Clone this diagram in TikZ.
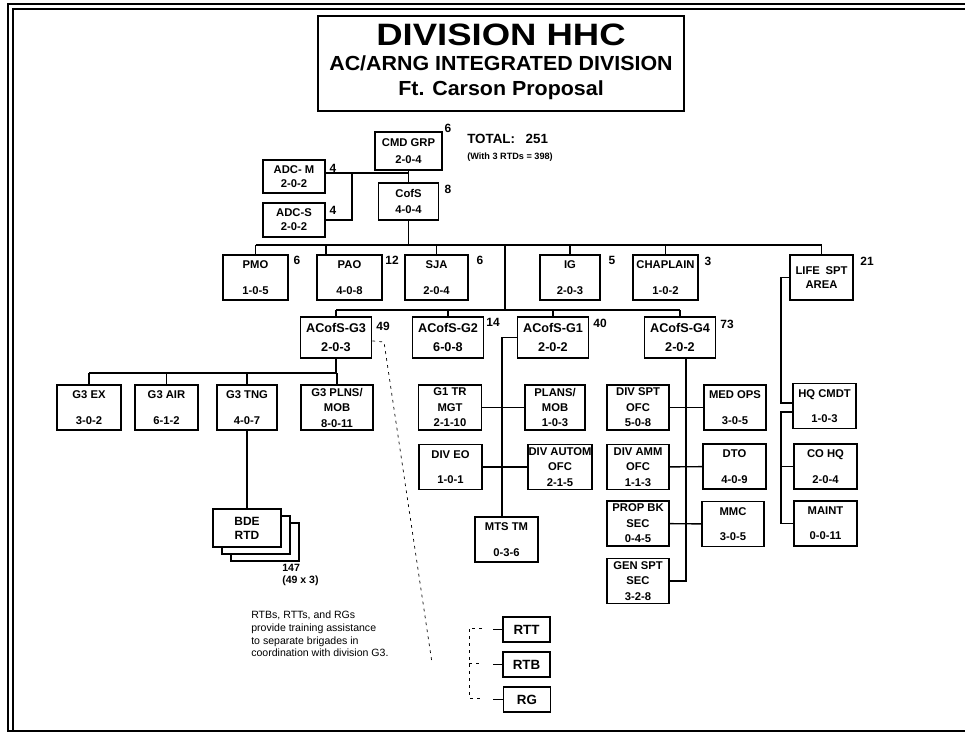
\documentclass[tikz,border=0pt]{standalone}
\usepackage{graphicx}
\usepackage{fontspec}
\setmainfont{Liberation Sans}
\usetikzlibrary{calc}

\begin{document}
\begin{tikzpicture}[
  x=0.025cm,
  y=-0.025cm,
]

  \tikzstyle{orgbox}=[draw,rectangle,line width=1.1pt,minimum width=1.575cm,minimum height=1.125cm,inner sep=0.5pt,align=center,font=\bfseries\fontsize{8}{10}\selectfont]
  \tikzstyle{gbox}=[orgbox,minimum width=1.775cm,minimum height=1.025cm,font=\bfseries\fontsize{9}{11}\selectfont]
  \tikzstyle{topbox}=[orgbox,minimum width=1.55cm,minimum height=0.85cm]
  \tikzstyle{rtdbox}=[orgbox,fill=white,minimum width=1.7cm,minimum height=0.95cm,font=\bfseries\fontsize{8.5}{10}\selectfont]
  \tikzstyle{rtbox}=[orgbox,minimum width=1.175cm,minimum height=0.625cm,font=\bfseries\fontsize{9.5}{11}\selectfont]
  \tikzstyle{tally}=[inner sep=0pt,font=\bfseries\fontsize{8.5}{10}\selectfont]
  \tikzstyle{headline}=[inner sep=0pt,font=\bfseries\fontsize{14.5}{17}\selectfont]
  \tikzstyle{link}=[draw,line width=1pt]
  \tikzstyle{dotlink}=[draw,line width=0.5pt,dash pattern=on 2pt off 3pt]

  % frame
  \useasboundingbox (0,0) rectangle (965,733);
  \draw[line width=1.6pt] (965,4) -- (8,4) -- (8,731) -- (965,731);
  \draw[line width=0.9pt] (965,9) -- (13,9) -- (13,731);

  % title
  \node[draw,line width=0.8pt,minimum width=9.15cm,minimum height=2.375cm] (title) at (501,63.5) {};
  \node[inner sep=0pt,font=\bfseries\fontsize{22}{24}\selectfont] (titlea) at (501,35) {\scalebox{1.18}[1]{DIVISION HHC}};
  \node[headline] (titleb) at (501,63) {\scalebox{1.05}[1]{AC/ARNG INTEGRATED DIVISION}};
  \node[headline] (titlec) at (501,90) {\scalebox{1.05}[1]{Ft. Carson Proposal}};

  % nodes
  \node[topbox,minimum width=1.675cm,minimum height=0.95cm] (cmdgrp) at (408.5,151) {CMD GRP\\[2pt]2-0-4};
  \node[topbox,minimum height=0.825cm] (adcm) at (294,176.5) {ADC- M\\2-0-2};
  \node[topbox] (adcs) at (294,220) {ADC-S\\2-0-2};
  \node[topbox,minimum width=1.5cm,minimum height=0.925cm] (cofs) at (408.5,201.5) {CofS\\[1pt]4-0-4};

  \node[tally] (cmdgrpn) at (448,128) {6};
  \node[tally] (adcmn) at (333,168) {4};
  \node[tally] (adcsn) at (333,210) {4};
  \node[tally] (cofsn) at (448,189) {8};
  \node[anchor=west,inner sep=0pt,font=\bfseries\fontsize{9.5}{11}\selectfont] (total) at (467,139) {TOTAL:\hspace{0.8em}251};
  \node[anchor=west,inner sep=0pt,font=\bfseries\fontsize{6.5}{8}\selectfont] (withrtd) at (467,157) {(With 3 RTDs = 398)};

  \node[orgbox,minimum width=1.625cm] (pmo) at (255.5,277.5) {PMO\\[9pt]1-0-5};
  \node[orgbox,minimum width=1.625cm] (pao) at (349.5,277.5) {PAO\\[9pt]4-0-8};
  \node[orgbox] (sja) at (436.5,277.5) {SJA\\[9pt]2-0-4};
  \node[orgbox,minimum width=1.5cm] (ig) at (570,277.5) {IG\\[9pt]2-0-3};
  \node[orgbox,minimum width=1.625cm] (chaplain) at (665.5,277.5) {CHAPLAIN\\[9pt]1-0-2};
  \node[orgbox] (lifespt) at (821.5,277.5) {LIFE\hspace{0.5em}SPT\\AREA};

  \node[tally] (pmon) at (297,260) {6};
  \node[tally] (paon) at (392,260) {12};
  \node[tally] (sjan) at (480,260) {6};
  \node[tally] (ign) at (612,260) {5};
  \node[tally] (chaplainn) at (708,261) {3};
  \node[tally] (lifesptn) at (867,261) {21};

  \node[gbox] (g3) at (336,337.5) {ACofS-G3\\[3pt]2-0-3};
  \node[gbox] (g2) at (448,337.5) {ACofS-G2\\[3pt]6-0-8};
  \node[gbox] (g1) at (553,337.5) {ACofS-G1\\[3pt]2-0-2};
  \node[gbox] (g4) at (680,337.5) {ACofS-G4\\[3pt]2-0-2};

  \node[tally] (g3n) at (383,326) {49};
  \node[tally] (g2n) at (493,322) {14};
  \node[tally] (g1n) at (600,323) {40};
  \node[tally] (g4n) at (727,324) {73};

  \node[orgbox,minimum width=1.6cm] (g3ex) at (89,407.5) {G3 EX\\[9pt]3-0-2};
  \node[orgbox] (g3air) at (166.5,407.5) {G3 AIR\\[9pt]6-1-2};
  \node[orgbox,minimum width=1.5cm] (g3tng) at (247,407.5) {G3 TNG\\[9pt]4-0-7};
  \node[orgbox,minimum width=1.8cm] (g3plns) at (337,407.5) {G3 PLNS/\\[1pt]MOB\\[1pt]8-0-11};

  \node[rtdbox] (bde3) at (265,542) {};
  \node[rtdbox] (bde2) at (256,535) {};
  \node[rtdbox] (bde1) at (247,528) {BDE\\RTD};
  \node[anchor=west,inner sep=0pt,font=\bfseries\fontsize{7.5}{9}\selectfont] (bden) at (282,568) {147};
  \node[anchor=west,inner sep=0pt,font=\bfseries\fontsize{7.5}{9}\selectfont] (bdex) at (282,581) {(49 x 3)};

  \node[anchor=north west,inner sep=0pt,align=left,font=\fontsize{7.5}{9}\selectfont] (note) at (251,611)
    {RTBs, RTTs, and RGs\\provide training assistance\\to separate brigades in\\coordination with division G3.};

  \node[orgbox] (g1trmgt) at (450,407.5) {G1 TR\\[1pt]MGT\\[1pt]2-1-10};
  \node[orgbox,minimum width=1.5cm] (plansmob) at (555,407.5) {PLANS/\\[1pt]MOB\\[1pt]1-0-3};
  \node[orgbox] (diveo) at (450.5,467) {DIV EO\\[8pt]1-0-1};
  \node[orgbox,minimum width=1.6cm] (divautom) at (560,467) {DIV AUTOM\\[1pt]OFC\\[1pt]2-1-5};
  \node[orgbox] (mtstm) at (506.5,539.5) {MTS TM\\[8pt]0-3-6};

  \node[orgbox,minimum width=1.55cm] (divspt) at (638,407.5) {DIV SPT\\[1pt]OFC\\[1pt]5-0-8};
  \node[orgbox,minimum width=1.55cm] (medops) at (735,407.5) {MED OPS\\[8pt]3-0-5};
  \node[orgbox,minimum width=1.55cm] (divamm) at (638,467) {DIV AMM\\[1pt]OFC\\[1pt]1-1-3};
  \node[orgbox] (dto) at (734.5,466.5) {DTO\\[8pt]4-0-9};
  \node[orgbox,minimum width=1.55cm] (propbk) at (638,523.5) {PROP BK\\[1pt]SEC\\[1pt]0-4-5};
  \node[orgbox,minimum width=1.55cm] (mmc) at (733,524) {MMC\\[8pt]3-0-5};
  \node[orgbox,minimum width=1.55cm] (genspt) at (638,581) {GEN SPT\\[1pt]SEC\\[1pt]3-2-8};

  \node[orgbox] (hqcmdt) at (824.5,406) {HQ CMDT\\[8pt]1-0-3};
  \node[orgbox] (cohq) at (825.5,466.5) {CO HQ\\[8pt]2-0-4};
  \node[orgbox] (maint) at (825.5,523.5) {MAINT\\[8pt]0-0-11};

  \node[rtbox] (rtt) at (526.5,629.5) {RTT};
  \node[rtbox] (rtb) at (526.5,664.5) {RTB};
  \node[rtbox] (rg) at (527,699.5) {RG};

  % junctions
  \coordinate (cj) at (408.5,173);
  \coordinate (adcj) at (352,173);
  \coordinate (bar2) at (505,245);
  \coordinate (paod) at (326,245);
  \coordinate (bar3) at (505,310);
  \coordinate (g3bar) at (336,373);
  \coordinate (g1t) at (502,337.5);
  \coordinate (g4t) at (686,358);
  \coordinate (lsa) at (781,403);
  \coordinate (lsb) at (781,412);
  \coordinate (g3e) at (384,342);
  \coordinate (g3d) at (432,663);
  \coordinate (brk1) at (482,628);
  \coordinate (brk2) at (482,663);
  \coordinate (brk3) at (482,698);
  \coordinate (brkv) at (469,0);
  \coordinate (stub) at (493,0);

  % pointers
  \draw[link] (cmdgrp) -- (cofs);
  \draw[link] (adcm.east |- cj) -- (cj);
  \draw[link] (adcj) |- (adcs.east);
  \draw[link] (cofs) -- (cofs |- bar2);
  \draw[link] (pmo.north |- bar2) -- (lifespt.north |- bar2);
  \foreach \n in {pmo,sja,ig,chaplain,lifespt}
    \draw[link] (\n) -- (\n.north |- bar2);
  \draw[link] (pao.north -| paod) -- (paod);
  \draw[link] (bar2) -- (bar3);
  \draw[link] (g3.north |- bar3) -- (g4.north |- bar3);
  \foreach \n in {g3,g2,g1,g4}
    \draw[link] (\n) -- (\n.north |- bar3);

  \draw[link] (g3) -- (g3bar);
  \draw[link] (g3ex.north |- g3bar) -- (g3plns.north |- g3bar);
  \foreach \n in {g3ex,g3air,g3tng,g3plns}
    \draw[link] (\n) -- (\n.north |- g3bar);
  \draw[link] (g3tng) -- (bde1);

  \draw[link] (g1) -- (g1t) -- (g1t |- mtstm.north);
  \draw[link] (g1trmgt) -- (plansmob);
  \draw[link] (diveo)   -- (divautom);

  \draw[link] (g4t) -- (g4t |- genspt.east) -- (genspt);
  \draw[link] (divspt) -- (medops);
  \draw[link] (divamm) -- (dto);
  \draw[link] (propbk) -- (mmc);

  \draw[link] (lifespt) -| (lsa) -- (lsa -| hqcmdt.west);
  \draw[link] (lsb -| hqcmdt.west) -- (lsb) |- (maint);
  \draw[link] (lsb |- cohq) -- (cohq);

  \draw[dotlink] (g3) -- (g3e) -- (g3d);
  \draw[dotlink] (brk1) -- (brk1 -| brkv) -- (brk3 -| brkv) -- (brk3);
  \draw[dotlink] (brk2 -| brkv) -- (brk2);
  \foreach \n in {rtt,rtb,rg}
    \draw[link] (\n) -- (\n.west -| stub);

\end{tikzpicture}
\end{document}
